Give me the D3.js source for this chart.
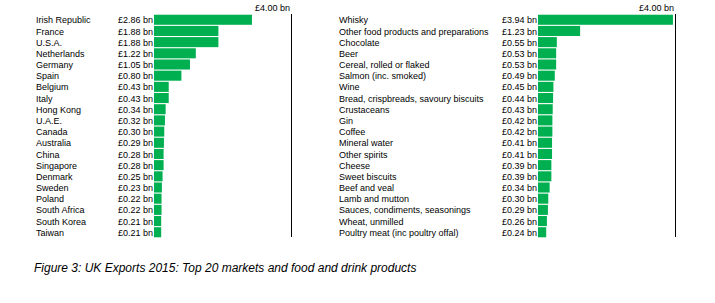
<!DOCTYPE html>
<html lang="en">
<head>
    <meta charset="UTF-8">
    <title>UK Exports 2015: Top 20 markets and food and drink products</title>
    <script src="https://d3js.org/d3.v7.min.js"></script>
    <style>
        body { margin: 0; background: #fff; }
        text { font-family: "Liberation Sans", Arial, sans-serif; fill: #000; }
    </style>
</head>
<body>
    <script>
        const width = 715;
        const height = 303;

        // top 20 markets (£ bn)
        const markets = ["Irish Republic", "France", "U.S.A.", "Netherlands", "Germany", "Spain", "Belgium", "Italy",
            "Hong Kong", "U.A.E.", "Canada", "Australia", "China", "Singapore", "Denmark", "Sweden", "Poland",
            "South Africa", "South Korea", "Taiwan"];
        const marketValues = [2.86, 1.88, 1.88, 1.22, 1.05, 0.80, 0.43, 0.43, 0.34, 0.32, 0.30, 0.29, 0.28, 0.28,
            0.25, 0.23, 0.22, 0.22, 0.21, 0.21];

        // top 20 food and drink products (£ bn)
        const products = ["Whisky", "Other food products and preparations", "Chocolate", "Beer", "Cereal, rolled or flaked",
            "Salmon (inc. smoked)", "Wine", "Bread, crispbreads, savoury biscuits", "Crustaceans", "Gin", "Coffee",
            "Mineral water", "Other spirits", "Cheese", "Sweet biscuits", "Beef and veal", "Lamb and mutton",
            "Sauces, condiments, seasonings", "Wheat, unmilled", "Poultry meat (inc poultry offal)"];
        const productValues = [3.94, 1.23, 0.55, 0.53, 0.53, 0.49, 0.45, 0.44, 0.43, 0.42, 0.42, 0.41, 0.41, 0.39,
            0.39, 0.34, 0.30, 0.29, 0.26, 0.24];

        const axisMax = 4.00;
        const caption = "Figure 3: UK Exports 2015: Top 20 markets and food and drink products";

        const fmt = v => "£" + v.toFixed(2) + " bn";

        const svg = d3.select("body").append("svg")
            .attr("width", width)
            .attr("height", height);

        function panel(names, values, opts) {
            const g = svg.append("g");

            const x = d3.scaleLinear().domain([0, axisMax]).range([opts.barX, opts.barX + 137]);
            const y = d3.scaleBand().domain(names).range([14.5, 237.5]).paddingInner(0.1).paddingOuter(0.02);

            g.selectAll("rect")
                .data(names)
                .enter().append("rect")
                .attr("x", x(0))
                .attr("y", d => y(d))
                .attr("width", (d, i) => x(values[i]) - x(0))
                .attr("height", y.bandwidth())
                .attr("fill", "#00b050");

            g.selectAll(".name")
                .data(names)
                .enter().append("text")
                .attr("class", "name")
                .attr("x", opts.labelX)
                .attr("y", d => y(d) + y.bandwidth() / 2 + 3.6)
                .style("font-size", "9px")
                .text(d => d);

            g.selectAll(".val")
                .data(names)
                .enter().append("text")
                .attr("class", "val")
                .attr("x", x(0) - 1)
                .attr("y", d => y(d) + y.bandwidth() / 2 + 3.6)
                .attr("text-anchor", "end")
                .style("font-size", "9px")
                .text((d, i) => fmt(values[i]));

            // right-hand reference line at £4.00 bn
            g.append("line")
                .attr("x1", x(axisMax) + 0.5).attr("x2", x(axisMax) + 0.5)
                .attr("y1", 14).attr("y2", 237)
                .attr("stroke", "#000")
                .attr("stroke-width", 1);

            g.append("text")
                .attr("x", x(axisMax) - 1)
                .attr("y", 11)
                .attr("text-anchor", "end")
                .style("font-size", "9px")
                .text(fmt(axisMax));
        }

        panel(markets, marketValues, { labelX: 36, barX: 154 });
        panel(products, productValues, { labelX: 339, barX: 538 });

        svg.append("text")
            .attr("x", 34)
            .attr("y", 272)
            .style("font-size", "12px")
            .style("font-style", "italic")
            .text(caption);
    </script>
</body>
</html>
